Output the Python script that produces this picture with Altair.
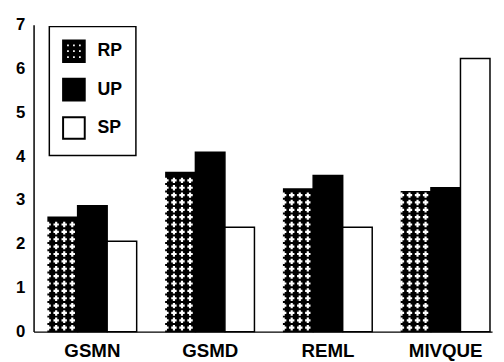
import altair as alt
import pandas as pd

cats = ["GSMN", "GSMD", "REML", "MIVQUE"]
series = ["RP", "UP", "SP"]
rp = [2.61, 3.63, 3.25, 3.19]
up = [2.87, 4.09, 3.56, 3.28]
sp = [2.06, 2.38, 2.38, 6.23]
y_ticks = [0, 1, 2, 3, 4, 5, 6, 7]

rows = []
for i, c in enumerate(cats):
    for s, vals in zip(series, [rp, up, sp]):
        rows.append({"cat": c, "series": s, "value": vals[i]})
df = pd.DataFrame(rows)

FONT = "Liberation Sans"

# legend symbol for the dotted pattern: a square with small holes
holes = []
for cy in (-0.55, 0.0, 0.55):
    for cx in (-0.55, 0.0, 0.55):
        h = 0.17
        holes.append(
            f"M{cx-h:.2f},{cy-h:.2f}L{cx-h:.2f},{cy+h:.2f}L{cx+h:.2f},{cy+h:.2f}L{cx+h:.2f},{cy-h:.2f}Z"
        )
pattern_path = "M-1,-1L1,-1L1,1L-1,1Z" + "".join(holes)

base = alt.Chart(df)

x_enc = alt.X(
    "cat:N",
    sort=cats,
    scale=alt.Scale(paddingInner=0.248, paddingOuter=0.0705, align=0.875),
    axis=alt.Axis(
        title=None, labelAngle=0, ticks=False, domainColor="black", domainWidth=1.5,
        labelFontSize=19, labelFont=FONT, labelFontWeight="bold", labelColor="black",
        labelPadding=10,
    ),
)
y_scale = alt.Scale(domain=[0, 7], nice=False)
y_axis = alt.Axis(
    title=None, values=y_ticks, ticks=False, grid=False, domainColor="black",
    domainWidth=1.5, labelFontSize=17, labelFont=FONT, labelFontWeight="bold",
    labelColor="black", labelPadding=9,
)

legend_def = alt.Legend(title=None, symbolStrokeColor="black", symbolStrokeWidth=2)

color_enc = alt.Color(
    "series:N",
    sort=series,
    scale=alt.Scale(domain=series, range=["black", "black", "white"]),
    legend=legend_def,
)
stroke_enc = alt.Stroke(
    "series:N",
    sort=series,
    scale=alt.Scale(domain=series, range=["black", "black", "black"]),
    legend=legend_def,
)

bars = base.mark_bar(strokeWidth=1.5).encode(
    x=x_enc,
    xOffset=alt.XOffset("series:N", sort=series, scale=alt.Scale(domain=series, paddingInner=0, paddingOuter=0)),
    y=alt.Y("value:Q", scale=y_scale, axis=y_axis),
    color=color_enc,
    stroke=stroke_enc,
)

dots = (
    base.transform_filter("datum.series == 'RP'")
    .transform_calculate(row="sequence(0.09, datum.value - 0.04, 0.168)", col="[0,1,2,3]")
    .transform_flatten(["row"])
    .transform_flatten(["col"])
    .mark_point(shape="cross", filled=True, color="white", size=30, opacity=1, strokeWidth=0)
    .encode(
        x=x_enc,
        xOffset=alt.XOffset("col:O", scale=alt.Scale(domain=list(range(12)), paddingInner=0, paddingOuter=0)),
        y=alt.Y("row:Q", scale=y_scale, axis=y_axis),
    )
)

legend_layer = (
    base.transform_filter("datum.value < 0")
    .mark_point(filled=True, strokeWidth=2)
    .encode(
        x=x_enc,
        y=alt.Y("value:Q", scale=y_scale, axis=y_axis),
        color=color_enc,
        stroke=stroke_enc,
        shape=alt.Shape(
            "series:N", sort=series,
            scale=alt.Scale(domain=series, range=[pattern_path, "square", "square"]),
            legend=legend_def,
        ),
    )
)

chart = (
    alt.layer(bars, dots, legend_layer)
    .resolve_scale(xOffset="independent")
    .properties(
        width=466, height=312,
        autosize=alt.AutoSizeParams(type="none"),
        padding={"left": 26, "top": 14, "right": 4, "bottom": 32},
    )
    .configure_view(stroke=None)
    .configure_legend(
        orient="none", legendX=16, legendY=2, padding=13,
        strokeColor="black", strokeWidth=1.5, fillColor="white",
        symbolSize=484, rowPadding=9, labelOffset=12,
        labelFontSize=18, labelFont=FONT, labelFontWeight="bold", labelColor="black",
        symbolStrokeColor="black", symbolStrokeWidth=2, symbolOpacity=1,
    )
)

chart.save("out.html", embed_options={"renderer": "svg", "actions": False})
